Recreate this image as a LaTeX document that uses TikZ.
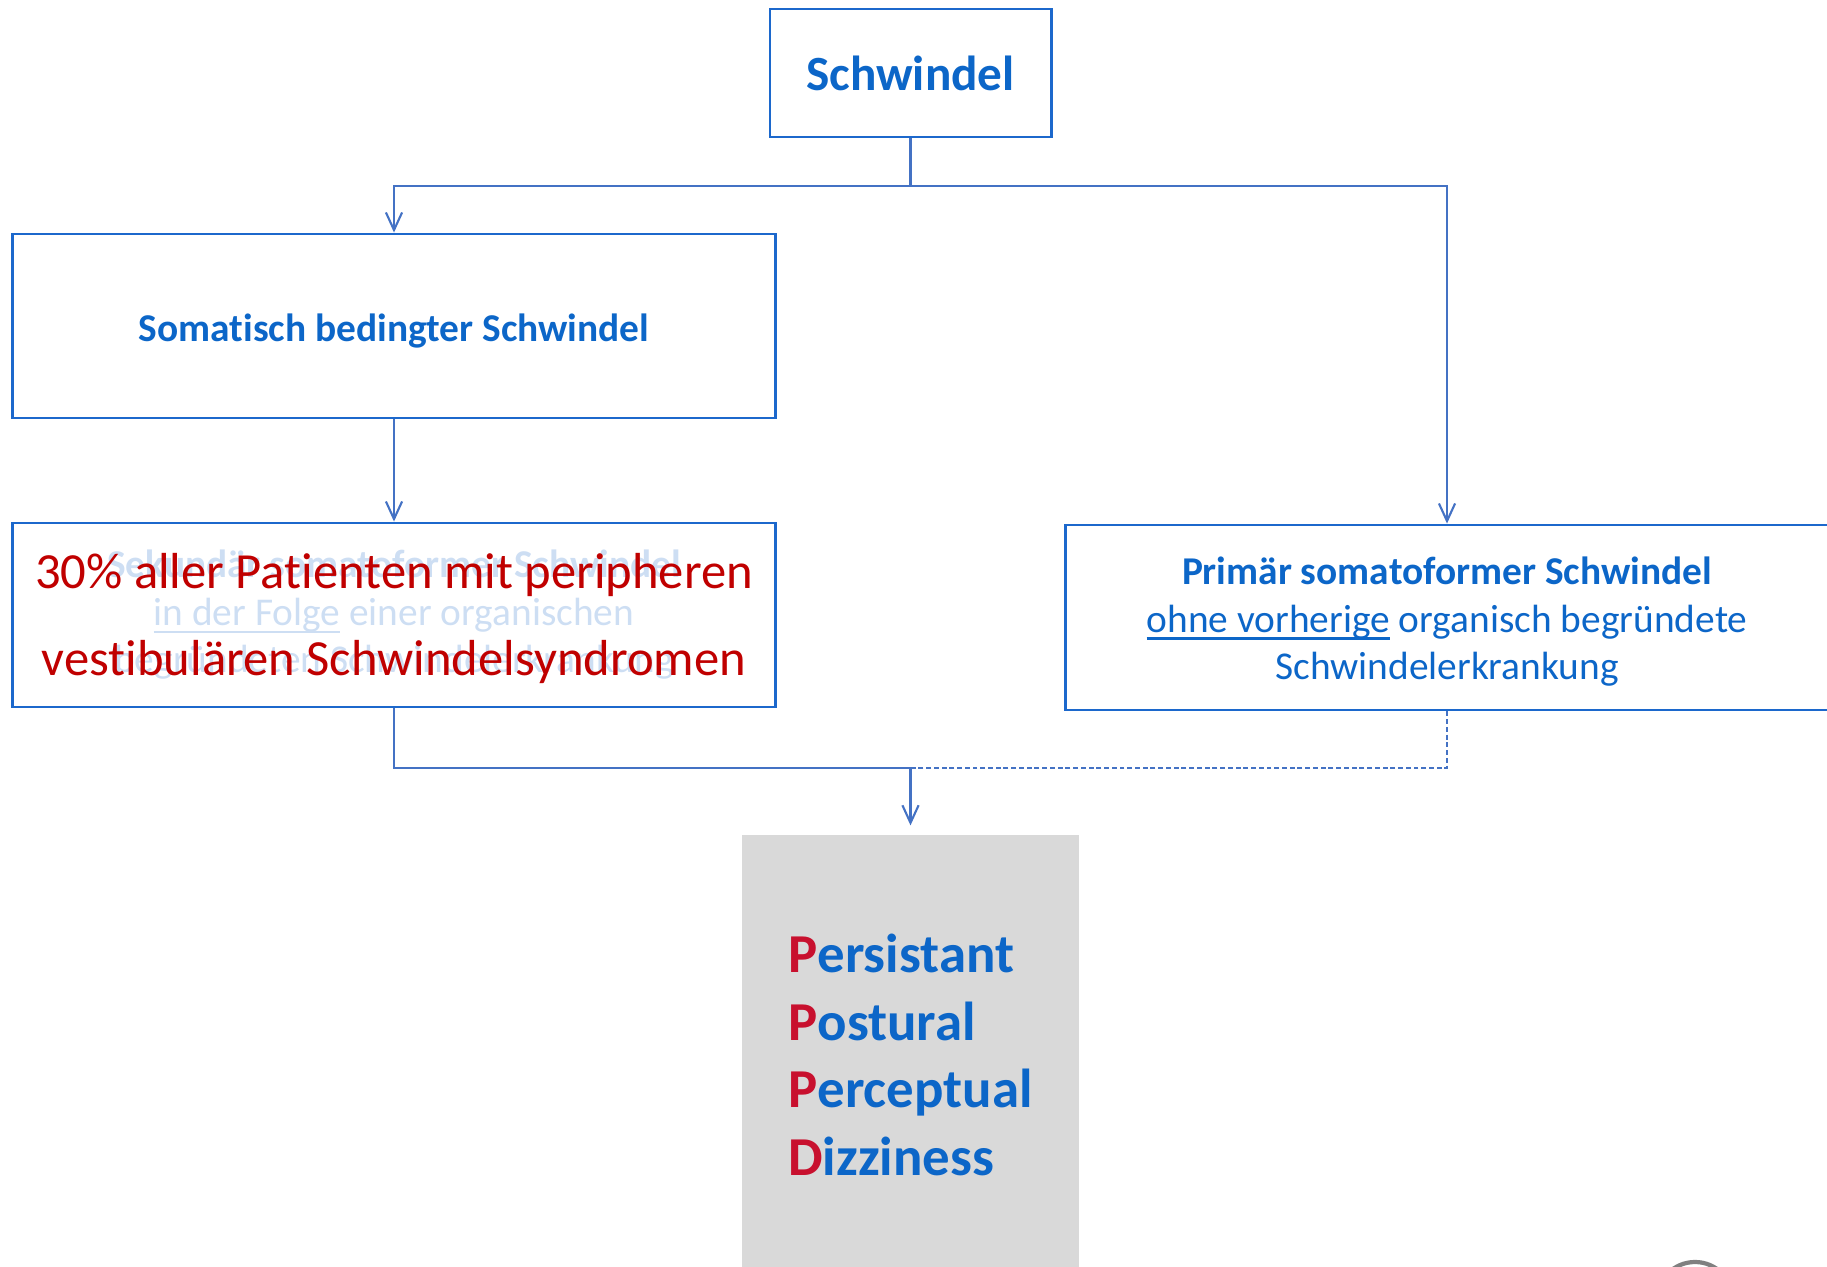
\documentclass[tikz,border=0pt]{standalone}
\usepackage{fontspec}
\setmainfont{Carlito}[Ligatures=NoCommon]
\usetikzlibrary{arrows.meta}
\definecolor{swblue}{RGB}{12,102,200}
\definecolor{swframe}{RGB}{28,104,204}
\definecolor{swline}{RGB}{68,114,196}
\definecolor{swred}{RGB}{192,0,0}
\definecolor{swcrimson}{RGB}{200,16,46}
\definecolor{swfaded}{RGB}{205,222,243}
\definecolor{swgray}{RGB}{217,217,217}
\newcommand{\ustrich}[1]{\setbox0\hbox{#1}\rlap{\rule[-0.2em]{\wd0}{0.07em}}\box0\relax}
\newcommand{\tiefer}[2]{\raisebox{-#1}[\height][\depth]{#2}}

\begin{document}
\begin{tikzpicture}[x=0.01cm,y=-0.01cm,
    box/.style={draw=swframe,line width=0.8pt,inner sep=0pt,align=center,text=swblue},
    wire/.style={swline,line width=0.6pt},
    conn/.style={wire,-{Straight Barb[length=5pt,width=4.6pt]}}]
        \useasboundingbox (0,0) rectangle (1827,1266);
        \node[box,minimum width=2.81cm,minimum height=1.28cm,font=\bfseries\fontsize{14}{17}\selectfont] (schwindel) at (910.5,73) {Schwindel};
        \node[box,minimum width=7.62cm,minimum height=1.84cm,font=\bfseries\fontsize{11.2}{13.5}\selectfont] (somatisch) at (394,326) {\tiefer{1.3pt}{Somatisch bedingter Schwindel}};
        \node[box,minimum width=7.62cm,minimum height=1.84cm,text=swfaded,font=\fontsize{11.2}{13.5}\selectfont] (sekundaer) at (394,615)
          {\textbf{Sekundär somatoformer Schwindel}\\\ustrich{in der Folge} einer organischen\\begründeten Schwindelerkrankung};
        \node[text=swred,align=center,inner sep=0pt,font=\fontsize{14.4}{24.5}\selectfont] (anteil) at ([yshift=-1pt]sekundaer.center)
          {30\% aller Patienten mit peripheren\\vestibulären Schwindelsyndromen};
        \node[box,minimum width=7.62cm,minimum height=1.85cm,font=\fontsize{11.2}{13.5}\selectfont] (primaer) at (1447,617.5)
          {\tiefer{1.2pt}{\textbf{Primär somatoformer Schwindel}}\\\tiefer{1.2pt}{\ustrich{ohne vorherige} organisch begründete}\\\tiefer{1.2pt}{Schwindelerkrankung}};
        \node[fill=swgray,minimum width=3.37cm,minimum height=4.40cm,inner sep=0pt,align=left,text=swblue,font=\bfseries\fontsize{15.6}{19.2}\selectfont] (pppd) at (910.5,1055)
          {\textcolor{swcrimson}{P}ersistant\\\textcolor{swcrimson}{P}ostural\\\textcolor{swcrimson}{P}erceptual\\\textcolor{swcrimson}{D}izziness};
        \coordinate (split) at (910.5,186);
        \coordinate (merge) at (910.5,768);
        \draw[wire] (schwindel) -- (split);
        \draw[conn] (split) -| (somatisch.north);
        \draw[conn] (split) -| (primaer.north);
        \draw[conn] (somatisch) -- (sekundaer);
        \draw[wire] (sekundaer.south) |- (merge);
        \draw[wire,dash pattern=on 1.4pt off 0.8pt] (primaer.south) |- (merge);
        \draw[conn,shorten >=2.5pt] (merge) -- (pppd.north);
        \draw[gray,line width=1.2pt,fill=white] (1695,1300) circle[radius=0.38cm];
      \end{tikzpicture}
\end{document}
